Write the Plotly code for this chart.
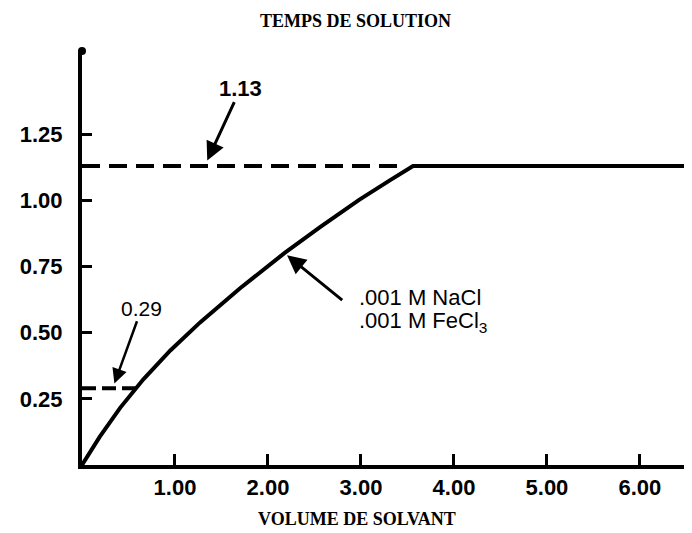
import plotly.graph_objects as go

# ---- data ----
volume = [0.0, 0.19, 0.41, 0.66, 0.95, 1.27, 1.70, 2.18, 2.56, 2.98, 3.31, 3.56, 6.7]
temps = [0.0, 0.106, 0.216, 0.324, 0.433, 0.539, 0.668, 0.802, 0.899, 1.002, 1.076, 1.13, 1.13]

plateau_value = 1.13
plateau_x_end = 3.4
low_value = 0.29
low_x_end = 0.6

x_tickvals = [1, 2, 3, 4, 5, 6]
x_ticktext = ["1.00", "2.00", "3.00", "4.00", "5.00", "6.00"]
y_tickvals = [0.25, 0.5, 0.75, 1.0, 1.25]
y_ticktext = ["0.25", "0.50", "0.75", "1.00", "1.25"]

x_range = [0, 6.56]
y_range = [0, 1.565]

title_text = "TEMPS DE SOLUTION"
xtitle_text = "VOLUME DE SOLVANT"
label_plateau = "1.13"
label_low = "0.29"
label_series = [".001 M NaCl", ".001 M FeCl<sub>3</sub>"]

# arrow tip on the curve
curve_arrow_tip = (2.18, 0.80)
plateau_arrow_x = 1.32
low_arrow_x = 0.33

fig = go.Figure()

# dashed reference lines
fig.add_trace(go.Scatter(x=[0, plateau_x_end], y=[plateau_value, plateau_value], mode="lines",
                         line=dict(color="black", width=4, dash="18px,9px"), hoverinfo="skip",
                         showlegend=False))
fig.add_trace(go.Scatter(x=[0, low_x_end], y=[low_value, low_value], mode="lines",
                         line=dict(color="black", width=4, dash="14px,6px"), hoverinfo="skip",
                         showlegend=False))
# main curve
fig.add_trace(go.Scatter(x=volume, y=temps, mode="lines",
                         line=dict(color="black", width=4),
                         showlegend=False))
# dot at top of y axis
fig.add_trace(go.Scatter(x=[x_range[0]], y=[y_range[1]], mode="markers",
                         marker=dict(color="black", size=8), cliponaxis=False,
                         hoverinfo="skip", showlegend=False))

tick_font = dict(family="Liberation Sans", size=22, color="black", weight="bold")

fig.update_xaxes(range=x_range, showline=True, linecolor="black", linewidth=4,
                 ticks="inside", ticklen=11, tickwidth=3, tickcolor="black",
                 tickvals=x_tickvals, ticktext=x_ticktext, tickfont=tick_font,
                 ticklabelstandoff=0, showgrid=False, zeroline=False)
fig.update_yaxes(range=y_range, showline=True, linecolor="black", linewidth=4,
                 ticks="inside", ticklen=10, tickwidth=3, tickcolor="black",
                 tickvals=y_tickvals, ticktext=y_ticktext, tickfont=tick_font,
                 ticklabelstandoff=11, showgrid=False, zeroline=False)

annotations = [
    dict(text=title_text, xref="paper", yref="paper", x=0.449, y=1.072, showarrow=False,
         xanchor="center", yanchor="middle",
         font=dict(family="Liberation Serif", size=18, color="black", weight="bold")),
    dict(text=xtitle_text, xref="paper", yref="paper", x=0.451, y=-0.130, showarrow=False,
         xanchor="center", yanchor="middle",
         font=dict(family="Liberation Serif", size=18, color="black", weight="bold")),
    dict(text=label_plateau, x=plateau_arrow_x, y=plateau_value, xref="x", yref="y",
         showarrow=True, arrowhead=2, arrowsize=1.25, arrowwidth=3, arrowcolor="black",
         ax=36, ay=-78, standoff=6,
         font=dict(family="Liberation Sans", size=22, color="black", weight="bold")),
    dict(text=label_low, x=low_arrow_x, y=low_value, xref="x", yref="y",
         showarrow=True, arrowhead=2, arrowsize=1.2, arrowwidth=2.5, arrowcolor="black",
         ax=29, ay=-80, standoff=5,
         font=dict(family="Liberation Sans", size=21, color="black")),
    dict(text="", x=curve_arrow_tip[0], y=curve_arrow_tip[1], xref="x", yref="y",
         showarrow=True, arrowhead=2, arrowsize=1.25, arrowwidth=3, arrowcolor="black",
         ax=59, ay=48, standoff=3),
    dict(text=label_series[0], xref="paper", yref="paper", x=(357 - 82) / 610, y=(465 - 297) / 414,
         showarrow=False, xanchor="left", yanchor="middle",
         font=dict(family="Liberation Sans", size=22, color="black")),
    dict(text=label_series[1], xref="paper", yref="paper", x=(357 - 82) / 610, y=(465 - 322) / 414,
         showarrow=False, xanchor="left", yanchor="middle",
         font=dict(family="Liberation Sans", size=22, color="black")),
]

# the page body adds an 8px offset, so the figure is 8px smaller and margins compensate
fig.update_layout(width=684, height=525, margin=dict(l=74, r=0, t=43, b=68),
                  plot_bgcolor="white", paper_bgcolor="white", annotations=annotations)

fig.write_html("out.html")
